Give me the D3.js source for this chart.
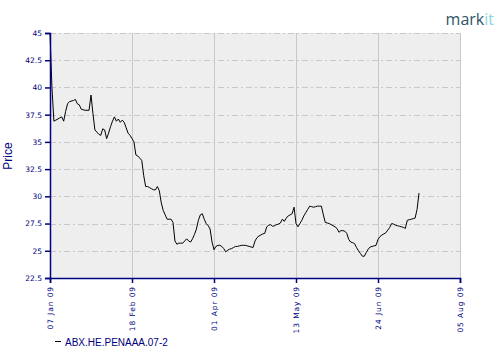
<!DOCTYPE html>
<html>
<head>
<meta charset="utf-8">
<script src="https://cdn.jsdelivr.net/npm/d3@7"></script>
<style>
  body { margin: 0; background: #fff; }
  svg { display: block; }
</style>
</head>
<body>
<svg width="500" height="360"></svg>
<script>
"use strict";

const plotLeft = 50, plotTop = 33, plotRight = 460, plotBottom = 278;

const seriesName = "ABX.HE.PENAAA.07-2";
const yTicks = [22.5, 25, 27.5, 30, 32.5, 35, 37.5, 40, 42.5, 45];
const xTicks = ["2009-01-07", "2009-02-18", "2009-04-01", "2009-05-13", "2009-06-24", "2009-08-05"];

const dates = [
    "2009-01-07", "2009-01-08", "2009-01-09", "2009-01-10", "2009-01-12", "2009-01-13", "2009-01-14", "2009-01-15",
    "2009-01-16", "2009-01-17", "2009-01-19", "2009-01-20", "2009-01-21", "2009-01-22", "2009-01-23", "2009-01-25",
    "2009-01-27", "2009-01-28", "2009-01-29", "2009-01-30",
    "2009-02-01", "2009-02-02", "2009-02-03", "2009-02-04", "2009-02-05", "2009-02-06", "2009-02-07", "2009-02-08",
    "2009-02-09", "2009-02-10", "2009-02-11", "2009-02-12", "2009-02-13", "2009-02-14", "2009-02-15", "2009-02-16",
    "2009-02-17", "2009-02-18", "2009-02-19", "2009-02-20", "2009-02-21", "2009-02-22", "2009-02-23", "2009-02-24",
    "2009-02-25", "2009-02-26", "2009-02-27", "2009-02-28",
    "2009-03-01", "2009-03-02", "2009-03-03", "2009-03-04", "2009-03-05", "2009-03-06", "2009-03-07", "2009-03-08",
    "2009-03-09", "2009-03-10", "2009-03-11", "2009-03-12", "2009-03-13", "2009-03-14", "2009-03-15", "2009-03-16",
    "2009-03-17", "2009-03-18", "2009-03-19", "2009-03-20", "2009-03-21", "2009-03-22", "2009-03-23", "2009-03-24",
    "2009-03-25", "2009-03-26", "2009-03-27", "2009-03-28", "2009-03-29", "2009-03-30", "2009-03-31",
    "2009-04-01", "2009-04-02", "2009-04-03", "2009-04-04", "2009-04-05", "2009-04-06", "2009-04-07", "2009-04-08",
    "2009-04-09", "2009-04-10", "2009-04-11", "2009-04-12", "2009-04-13", "2009-04-14", "2009-04-15", "2009-04-16",
    "2009-04-17", "2009-04-18", "2009-04-19", "2009-04-20", "2009-04-21", "2009-04-22", "2009-04-23", "2009-04-24",
    "2009-04-25", "2009-04-26", "2009-04-27", "2009-04-28", "2009-04-29", "2009-04-30",
    "2009-05-01", "2009-05-02", "2009-05-03", "2009-05-04", "2009-05-05", "2009-05-06", "2009-05-07", "2009-05-08",
    "2009-05-09", "2009-05-10", "2009-05-11", "2009-05-12", "2009-05-13", "2009-05-14", "2009-05-15", "2009-05-16",
    "2009-05-17", "2009-05-18", "2009-05-19", "2009-05-20", "2009-05-21", "2009-05-22", "2009-05-23", "2009-05-24",
    "2009-05-25", "2009-05-26", "2009-05-27", "2009-05-28", "2009-05-29", "2009-05-30", "2009-05-31",
    "2009-06-01", "2009-06-02", "2009-06-03", "2009-06-04", "2009-06-05", "2009-06-06", "2009-06-07", "2009-06-08",
    "2009-06-09", "2009-06-10", "2009-06-11", "2009-06-12", "2009-06-13", "2009-06-14", "2009-06-15", "2009-06-16",
    "2009-06-17", "2009-06-18", "2009-06-19", "2009-06-20", "2009-06-21", "2009-06-22", "2009-06-23", "2009-06-24",
    "2009-06-25", "2009-06-26", "2009-06-27", "2009-06-28", "2009-06-29", "2009-06-30",
    "2009-07-01", "2009-07-02", "2009-07-03", "2009-07-04", "2009-07-05", "2009-07-06", "2009-07-07", "2009-07-08",
    "2009-07-09", "2009-07-10", "2009-07-11", "2009-07-12", "2009-07-13", "2009-07-14", "2009-07-15"
];

const prices = [
    44.9, 40.0, 36.9, 37.0, 37.2, 37.3, 36.9, 37.8,
    38.5, 38.7, 38.8, 38.9, 38.5, 38.4, 38.0, 37.9,
    37.9, 39.3, 37.6, 36.1,
    35.7, 35.6, 36.2, 36.1, 35.3, 35.8, 36.4, 36.9,
    37.3, 36.9, 37.1, 36.8, 37.0, 36.8, 36.3, 35.8,
    35.6, 35.3, 35.0, 33.8, 33.7, 33.5, 33.3, 31.9,
    30.9, 30.9, 30.8, 30.7,
    30.6, 30.6, 30.9, 30.5, 29.4, 28.7, 28.3, 27.9,
    27.9, 27.9, 27.6, 25.9, 25.6, 25.7, 25.7, 25.7,
    25.9, 26.1, 25.9, 25.8, 26.1, 26.5, 27.0, 27.8,
    28.3, 28.4, 27.9, 27.5, 27.3, 27.0, 25.8,
    25.1, 25.4, 25.5, 25.5, 25.4, 25.2, 24.9, 25.05,
    25.15, 25.2, 25.3, 25.4, 25.4, 25.45, 25.5, 25.5,
    25.5, 25.45, 25.4, 25.35, 25.3, 25.9, 26.2, 26.35,
    26.45, 26.55, 26.6, 27.2, 27.35, 27.4,
    27.25, 27.3, 27.4, 27.45, 27.55, 27.9, 27.7, 28.0,
    28.2, 28.3, 28.4, 29.0, 27.5, 27.2, 27.5, 27.8,
    28.2, 28.5, 28.8, 29.1, 29.05, 29.0, 29.05, 29.1,
    29.1, 29.1, 28.3, 27.6, 27.55, 27.5, 27.4,
    27.3, 27.2, 27.05, 26.7, 26.85, 26.85, 26.8, 26.6,
    26.05, 25.8, 25.75, 25.65, 25.3, 25.0, 24.75, 24.5,
    24.5, 24.85, 25.15, 25.35, 25.4, 25.45, 25.5, 26.05,
    26.3, 26.45, 26.55, 26.65, 26.9, 27.15,
    27.5, 27.45, 27.35, 27.3, 27.25, 27.2, 27.15, 27.05,
    27.8, 27.85, 27.9, 27.95, 28.0, 28.8, 30.3
];

const parse = d3.utcParse("%Y-%m-%d");
const navy = "#000080";
const tickFont = "DejaVu Sans";

const svg = d3.select("svg");

const x = d3.scaleUtc()
    .domain([parse(xTicks[0]), parse(xTicks[xTicks.length - 1])])
    .range([plotLeft, plotRight]);
const y = d3.scaleLinear()
    .domain([22.5, 45])
    .range([plotBottom, plotTop]);

// plot background
svg.append("rect")
    .attr("x", plotLeft).attr("y", plotTop)
    .attr("width", plotRight - plotLeft).attr("height", plotBottom - plotTop)
    .attr("fill", "#eeeeee");

// horizontal grid, dash-dot
svg.append("g")
    .selectAll("line")
    .data(yTicks.slice(1))
    .join("line")
    .attr("x1", plotLeft).attr("x2", plotRight)
    .attr("y1", d => Math.round(y(d)) + 0.5).attr("y2", d => Math.round(y(d)) + 0.5)
    .attr("stroke", "#c8c8c8")
    .attr("stroke-dasharray", "6,3,2,3");

// vertical grid, solid
svg.append("g")
    .selectAll("line")
    .data(xTicks.slice(1))
    .join("line")
    .attr("x1", d => Math.round(x(parse(d))) + 0.5).attr("x2", d => Math.round(x(parse(d))) + 0.5)
    .attr("y1", plotTop).attr("y2", plotBottom)
    .attr("stroke", "#c8c8c8");

// price line
const series = dates.map((d, i) => ({ date: parse(d), price: prices[i] }));
svg.append("path")
    .datum(series)
    .attr("fill", "none")
    .attr("stroke", "#000")
    .attr("stroke-width", 1)
    .attr("d", d3.line().x(d => x(d.date)).y(d => y(d.price)));

// y axis
const yAxis = svg.append("g")
    .attr("transform", `translate(${plotLeft},0)`)
    .call(d3.axisLeft(y).tickValues(yTicks).tickSize(5).tickPadding(3).tickFormat(d3.format("")));
yAxis.select(".domain").attr("stroke", navy).attr("stroke-width", 1.5);
yAxis.selectAll(".tick line").attr("stroke", navy).attr("stroke-width", 1.5);
yAxis.selectAll(".tick text")
    .attr("fill", navy)
    .attr("font-family", tickFont)
    .attr("font-size", 7.5);

// x axis
const xAxis = svg.append("g")
    .attr("transform", `translate(0,${plotBottom})`)
    .call(d3.axisBottom(x).tickValues(xTicks.map(parse)).tickSize(5).tickFormat(d3.utcFormat("%d %b %y")));
xAxis.select(".domain").attr("stroke", navy).attr("stroke-width", 1.5);
xAxis.selectAll(".tick line").attr("stroke", navy).attr("stroke-width", 1.5);
xAxis.selectAll(".tick text")
    .attr("fill", navy)
    .attr("font-family", tickFont)
    .attr("font-size", 7.5)
    .attr("letter-spacing", 0.9)
    .attr("text-anchor", "end")
    .attr("transform", "rotate(-90)")
    .attr("x", -8).attr("y", 0).attr("dy", "0.35em");

// axis title
svg.append("text")
    .attr("transform", "translate(11.5,156) rotate(-90)")
    .attr("text-anchor", "middle")
    .attr("fill", navy)
    .attr("font-family", "Liberation Sans")
    .attr("font-size", 12)
    .text("Price");

// legend
svg.append("line")
    .attr("x1", 55).attr("x2", 61)
    .attr("y1", 341.5).attr("y2", 341.5)
    .attr("stroke", "#000");
svg.append("text")
    .attr("x", 65).attr("y", 346)
    .attr("fill", navy)
    .attr("font-family", "Liberation Sans")
    .attr("font-size", 10)
    .text(seriesName);

// logo
const logo = svg.append("text")
    .attr("x", 494).attr("y", 25)
    .attr("text-anchor", "end")
    .attr("font-family", "Open Sans")
    .attr("font-size", 16);
logo.append("tspan").attr("fill", "#2f5467").text("mark");
logo.append("tspan").attr("fill", "#8fd6da").text("it");
</script>
</body>
</html>
